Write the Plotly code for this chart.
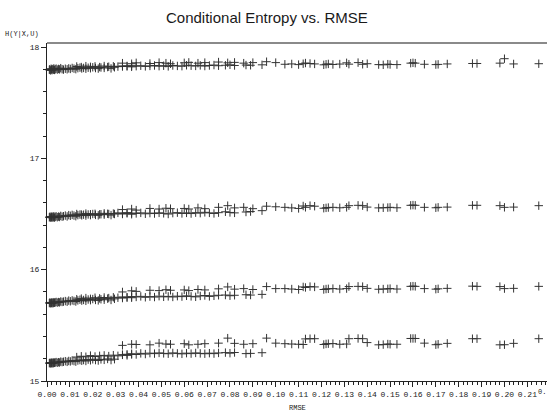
import plotly.graph_objects as go

# ---------------- data ----------------
X_DENSE = [0.0010, 0.0012, 0.0015, 0.0018, 0.0020, 0.0022, 0.0025, 0.0028, 0.0030, 0.0033,
           0.0036, 0.0040, 0.0045, 0.0050, 0.0055, 0.0060, 0.0066, 0.0072, 0.0080, 0.0088,
           0.0095, 0.0102, 0.0110, 0.0118, 0.0126, 0.0135, 0.0144, 0.0152, 0.0160, 0.0170,
           0.0180, 0.0190, 0.0200, 0.0212, 0.0224, 0.0236, 0.0250, 0.0265, 0.0280, 0.0295]
X_EARLY_UP = [0.013, 0.015, 0.017, 0.019, 0.021, 0.023, 0.025, 0.027, 0.029, 0.031, 0.033, 0.035, 0.037]
X_MID_LO = [0.033, 0.035, 0.037, 0.039, 0.041, 0.043, 0.045, 0.047, 0.049, 0.051, 0.053, 0.055, 0.057, 0.059,
            0.061, 0.063, 0.065, 0.067, 0.069, 0.071, 0.073, 0.075, 0.078, 0.080, 0.082, 0.087, 0.089, 0.094]
X_MID_HI = [0.033, 0.037, 0.039, 0.045, 0.049, 0.052, 0.054, 0.060, 0.062, 0.066, 0.069, 0.075, 0.079,
            0.082, 0.086, 0.090, 0.096, 0.100]
X_RIGHT = [0.104, 0.107, 0.110, 0.112, 0.113, 0.115, 0.117, 0.121, 0.122, 0.123, 0.125, 0.128, 0.131,
           0.132, 0.136, 0.138, 0.140, 0.145, 0.147, 0.149, 0.150, 0.153, 0.159, 0.160, 0.161, 0.165,
           0.170, 0.171, 0.175, 0.186, 0.188, 0.198, 0.200, 0.204, 0.215]

# band 1 (~17.8)
B1_DENSE = [17.795, 17.800, 17.790, 17.805, 17.798, 17.792, 17.802, 17.796, 17.808, 17.794,
            17.800, 17.806, 17.797, 17.803, 17.799, 17.810, 17.801, 17.797, 17.805, 17.800,
            17.808, 17.803, 17.812, 17.806, 17.801, 17.810, 17.815, 17.807, 17.812, 17.805,
            17.814, 17.809, 17.818, 17.811, 17.806, 17.816, 17.812, 17.820, 17.808, 17.818]
B1_EARLY_UP = [17.825, 17.820, 17.828, 17.822, 17.826, 17.820, 17.829, 17.823, 17.827, 17.824, 17.830, 17.826, 17.832]
B1_MID_LO = [17.825, 17.830, 17.822, 17.828, 17.832, 17.826, 17.830, 17.834, 17.828, 17.832, 17.826, 17.834,
             17.830, 17.828, 17.836, 17.832, 17.830, 17.835, 17.829, 17.834, 17.838, 17.832, 17.836, 17.840,
             17.834, 17.838, 17.836, 17.840]
B1_MID_HI = [17.855, 17.850, 17.858, 17.852, 17.860, 17.855, 17.850, 17.858, 17.862, 17.855, 17.860, 17.865,
             17.858, 17.862, 17.855, 17.860, 17.868, 17.860]
B1_RIGHT = [17.845, 17.848, 17.842, 17.850, 17.856, 17.852, 17.848, 17.840, 17.845, 17.848, 17.843, 17.847,
            17.858, 17.846, 17.860, 17.845, 17.850, 17.842, 17.840, 17.846, 17.843, 17.842, 17.855, 17.858,
            17.855, 17.845, 17.842, 17.844, 17.848, 17.852, 17.852, 17.855, 17.895, 17.848, 17.850]

# band 2 (~16.5)
B2_DENSE = [16.470, 16.475, 16.468, 16.478, 16.472, 16.466, 16.476, 16.470, 16.480, 16.468,
            16.474, 16.479, 16.471, 16.477, 16.473, 16.483, 16.476, 16.480, 16.486, 16.478,
            16.490, 16.484, 16.492, 16.486, 16.480, 16.490, 16.495, 16.488, 16.494, 16.486,
            16.496, 16.490, 16.500, 16.492, 16.488, 16.498, 16.494, 16.502, 16.490, 16.500]
B2_EARLY_UP = [16.500, 16.496, 16.504, 16.498, 16.502, 16.497, 16.506, 16.500, 16.504, 16.510, 16.505, 16.512, 16.508]
B2_MID_LO = [16.500, 16.506, 16.498, 16.505, 16.510, 16.502, 16.508, 16.504, 16.510, 16.506, 16.500, 16.508,
             16.512, 16.505, 16.510, 16.504, 16.512, 16.508, 16.515, 16.510, 16.505, 16.512, 16.520, 16.514,
             16.510, 16.518, 16.522, 16.530]
B2_MID_HI = [16.540, 16.545, 16.535, 16.550, 16.545, 16.552, 16.548, 16.550, 16.545, 16.555, 16.548, 16.560,
             16.575, 16.555, 16.560, 16.548, 16.570, 16.565]
B2_RIGHT = [16.560, 16.555, 16.550, 16.572, 16.560, 16.575, 16.570, 16.552, 16.555, 16.558, 16.560, 16.556,
            16.560, 16.575, 16.578, 16.575, 16.562, 16.555, 16.556, 16.558, 16.560, 16.556, 16.578, 16.580,
            16.578, 16.560, 16.556, 16.560, 16.562, 16.578, 16.578, 16.575, 16.560, 16.562, 16.575]

# band 3 (~15.7)
B3_DENSE = [15.700, 15.704, 15.698, 15.706, 15.702, 15.697, 15.705, 15.700, 15.708, 15.703,
            15.706, 15.710, 15.704, 15.709, 15.706, 15.714, 15.710, 15.713, 15.718, 15.712,
            15.722, 15.716, 15.724, 15.719, 15.714, 15.724, 15.730, 15.722, 15.728, 15.720,
            15.732, 15.726, 15.736, 15.728, 15.724, 15.734, 15.730, 15.740, 15.728, 15.738]
B3_EARLY_UP = [15.735, 15.740, 15.745, 15.738, 15.748, 15.742, 15.750, 15.745, 15.752, 15.748, 15.755, 15.750, 15.758]
B3_MID_LO = [15.745, 15.752, 15.748, 15.755, 15.760, 15.752, 15.758, 15.754, 15.762, 15.756, 15.760, 15.755,
             15.762, 15.758, 15.765, 15.760, 15.756, 15.764, 15.768, 15.760, 15.765, 15.770, 15.772, 15.766,
             15.770, 15.775, 15.772, 15.778]
B3_MID_HI = [15.800, 15.810, 15.805, 15.815, 15.812, 15.820, 15.815, 15.818, 15.812, 15.822, 15.818, 15.828,
             15.845, 15.825, 15.830, 15.822, 15.848, 15.830]
B3_RIGHT = [15.830, 15.826, 15.822, 15.845, 15.840, 15.848, 15.845, 15.822, 15.826, 15.828, 15.830, 15.826,
            15.830, 15.848, 15.850, 15.848, 15.832, 15.824, 15.826, 15.828, 15.830, 15.826, 15.850, 15.852,
            15.850, 15.830, 15.825, 15.828, 15.832, 15.852, 15.850, 15.848, 15.830, 15.832, 15.850]

# band 4 (~15.15)
B4_DENSE = [15.160, 15.163, 15.158, 15.166, 15.162, 15.157, 15.165, 15.160, 15.168, 15.163,
            15.166, 15.170, 15.164, 15.169, 15.166, 15.174, 15.170, 15.173, 15.178, 15.172,
            15.180, 15.176, 15.184, 15.179, 15.174, 15.184, 15.188, 15.182, 15.188, 15.180,
            15.192, 15.186, 15.195, 15.188, 15.184, 15.194, 15.190, 15.198, 15.188, 15.196]
B4_EARLY_UP = [15.215, 15.222, 15.218, 15.228, 15.220, 15.226, 15.230, 15.224, 15.232, 15.226, 15.235, 15.230, 15.238]
B4_MID_LO = [15.235, 15.240, 15.245, 15.238, 15.248, 15.242, 15.250, 15.246, 15.252, 15.248, 15.245, 15.252,
             15.248, 15.244, 15.250, 15.246, 15.252, 15.248, 15.245, 15.250, 15.246, 15.252, 15.255, 15.250,
             15.256, 15.246, 15.248, 15.254]
B4_MID_HI = [15.320, 15.330, 15.328, 15.325, 15.340, 15.332, 15.330, 15.335, 15.325, 15.330, 15.335, 15.340,
             15.385, 15.338, 15.330, 15.335, 15.385, 15.340]
B4_RIGHT = [15.335, 15.332, 15.330, 15.328, 15.378, 15.380, 15.380, 15.328, 15.333, 15.335, 15.336, 15.330,
            15.332, 15.380, 15.382, 15.380, 15.345, 15.325, 15.327, 15.332, 15.330, 15.330, 15.382, 15.382,
            15.382, 15.340, 15.326, 15.330, 15.338, 15.380, 15.380, 15.325, 15.326, 15.338, 15.380]

X_TICKS = [i / 100 for i in range(0, 22)]
X_TICK_LABELS = ["%.2f" % v for v in X_TICKS]
Y_TICKS = [15, 16, 17, 18]

TITLE = "Conditional Entropy vs. RMSE"
X_TITLE = "RMSE"
Y_TITLE = "H(Y|X,U)"
CLIPPED_TICK = "0."

# ---------------- figure ----------------
xs, ys = [], []
for band in [
    (B1_DENSE, B1_EARLY_UP, B1_MID_LO, B1_MID_HI, B1_RIGHT),
    (B2_DENSE, B2_EARLY_UP, B2_MID_LO, B2_MID_HI, B2_RIGHT),
    (B3_DENSE, B3_EARLY_UP, B3_MID_LO, B3_MID_HI, B3_RIGHT),
    (B4_DENSE, B4_EARLY_UP, B4_MID_LO, B4_MID_HI, B4_RIGHT),
]:
    for xv, yv in zip([X_DENSE, X_EARLY_UP, X_MID_LO, X_MID_HI, X_RIGHT], band):
        xs += xv
        ys += yv

fig = go.Figure()
fig.add_trace(go.Scatter(
    x=xs, y=ys, mode="markers",
    marker=dict(symbol="cross-thin", size=6, line=dict(color="#333333", width=1)),
    showlegend=False, hoverinfo="skip", cliponaxis=False,
))

W, H = 547, 412
L, R, T, B = 47, 0, 43, 31
tickfont = dict(family="Liberation Mono, Courier New, monospace", size=8, color="#222222")

fig.update_layout(
    width=W, height=H,
    margin=dict(l=L, r=R, t=T, b=B),
    paper_bgcolor="white", plot_bgcolor="white",
    xaxis=dict(
        range=[0, (W - L - 0.5) / 2285.0],
        tickmode="array", tickvals=X_TICKS, ticktext=X_TICK_LABELS,
        ticks="outside", ticklen=5, tickcolor="#222222", tickwidth=1,
        minor=dict(dtick=0.002, ticks="outside", ticklen=3, tickcolor="#222222", tickwidth=1, showgrid=False),
        showgrid=False, zeroline=False, showline=True, linecolor="#222222", linewidth=1,
        tickfont=tickfont, tickangle=0,
    ),
    yaxis=dict(
        range=[15, 18 + 4 / 111.0],
        tickmode="array", tickvals=Y_TICKS, ticktext=[str(v) for v in Y_TICKS],
        ticks="outside", ticklen=5, tickcolor="#222222", tickwidth=1,
        minor=dict(dtick=0.2, ticks="outside", ticklen=3, tickcolor="#222222", tickwidth=1, showgrid=False),
        showgrid=False, zeroline=False, showline=True, linecolor="#222222", linewidth=1,
        tickfont=tickfont,
    ),
    shapes=[dict(type="line", xref="paper", yref="paper", x0=0, x1=1, y0=1, y1=1,
                 line=dict(color="#8a8a8a", width=2))],
    annotations=[
        dict(text=TITLE, xref="paper", yref="paper", x=(267 - L) / (W - L), y=1 + (T - 18) / (H - T - B),
             xanchor="center", yanchor="middle", showarrow=False,
             font=dict(family="Liberation Sans, Arial, sans-serif", size=15, color="#1a1a1a")),
        dict(text=Y_TITLE, xref="paper", yref="paper", x=-(L - 41) / (W - L), y=1 + (T - 34) / (H - T - B),
             xanchor="right", yanchor="middle", showarrow=False,
             font=dict(family="Liberation Mono, Courier New, monospace", size=7, color="#222222")),
        dict(text=X_TITLE, xref="paper", yref="paper", x=0.5, y=-(408 - (H - B)) / (H - T - B),
             xanchor="center", yanchor="middle", showarrow=False,
             font=dict(family="Liberation Mono, Courier New, monospace", size=7, color="#222222")),
        dict(text=CLIPPED_TICK, xref="paper", yref="paper", x=1.0, y=-(392 - (H - B)) / (H - T - B),
             xanchor="right", yanchor="middle", showarrow=False, borderpad=0,
             font=dict(family="Liberation Mono, Courier New, monospace", size=7, color="#222222")),
    ],
)

fig.write_html("out.html")
